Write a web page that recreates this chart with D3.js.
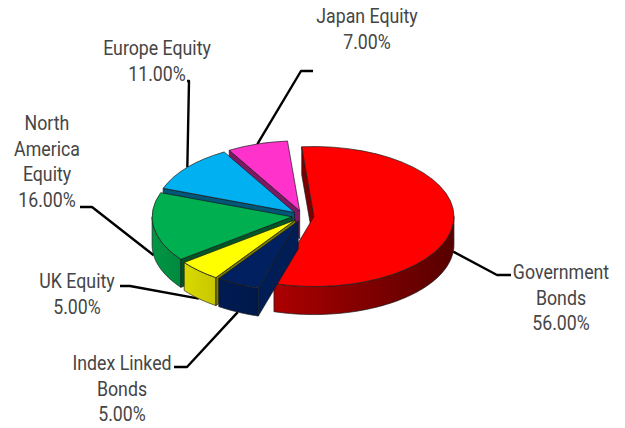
<!DOCTYPE html>
<html>
<head>
<meta charset="utf-8">
<script src="https://cdn.jsdelivr.net/npm/d3@7"></script>
<style>
  html, body { margin: 0; padding: 0; background: #fff; }
  svg { display: block; }
  .lbl { font-family: Roboto, sans-serif; font-size: 19.5px; fill: #454545; text-anchor: middle; }
</style>
</head>
<body>
<div id="chart"></div>
<script>
let categories = ["Government Bonds", "Index Linked Bonds", "UK Equity", "North America Equity", "Europe Equity", "Japan Equity"];
let values = [56, 5, 5, 16, 11, 7];
let topColors = ["#ff0000", "#002060", "#ffff00", "#00b050", "#00b0f0", "#ff33cc"];
let labelLines = [
  ["Government", "Bonds", "56.00%"],
  ["Index Linked", "Bonds", "5.00%"],
  ["UK Equity", "5.00%"],
  ["North", "America", "Equity", "16.00%"],
  ["Europe Equity", "11.00%"],
  ["Japan Equity", "7.00%"]
];

let width = 625;
let height = 428;
let cx = 303;
let cy = 216;
let rx = 140;
let ry = 70;
let depth = 28;
let explode = 11;
let startDeg = -5;

// label placement: centre x, first baseline, leader elbow, leader end
let labelPos = [
  { x: 561, y: 279, elbow: [497, 275], end: [511, 275] },
  { x: 122, y: 370, elbow: [187, 367], end: [174, 367] },
  { x: 77, y: 288, elbow: [130, 286], end: [120, 286] },
  { x: 47, y: 130, elbow: [92, 207], end: [80, 207] },
  { x: 157, y: 55, elbow: [189, 81], end: [187, 81] },
  { x: 367, y: 23, elbow: [301, 71], end: [313, 71] }
];
let lineStep = 25.7;
let textSqueeze = 0.91;

// painter order, back of the pie first
let drawOrder = [5, 4, 0, 3, 2, 1];

let svg = d3.select("#chart").append("svg").attr("width", width).attr("height", height);
let defs = svg.append("defs");

let pie = d3.pie().sort(null).value(d => d)
  .startAngle(startDeg * Math.PI / 180)
  .endAngle((startDeg + 360) * Math.PI / 180);
let slices = pie(values);

let arcTop = d3.arc().innerRadius(0).outerRadius(rx);
let line = d3.line();

function center(s) {
  let mid = (s.startAngle + s.endAngle) / 2;
  return [cx + Math.sin(mid) * explode, cy - Math.cos(mid) * explode * ry / rx];
}
function rim(s, a, z) {
  let c = center(s);
  return [c[0] + Math.sin(a) * rx, c[1] - Math.cos(a) * ry + z];
}

// leaders sit under the pie
let leaders = svg.append("g");
slices.forEach(function(s, i) {
  let mid = (s.startAngle + s.endAngle) / 2;
  let p = rim(s, mid, Math.cos(mid) < 0 ? depth : 0);
  leaders.append("path")
    .attr("d", line([labelPos[i].end, labelPos[i].elbow, p]))
    .attr("fill", "none")
    .attr("stroke", "#000")
    .attr("stroke-width", 2.4)
    .attr("stroke-linejoin", "round");
});

function wallGradient(i, x0, x1) {
  let base = d3.color(topColors[i]);
  let g = defs.append("linearGradient")
    .attr("id", "wall" + i)
    .attr("gradientUnits", "userSpaceOnUse")
    .attr("x1", x0).attr("x2", x1).attr("y1", 0).attr("y2", 0);
  g.append("stop").attr("offset", "0%").attr("stop-color", base.darker(i === 0 ? 1.1 : 0.45));
  g.append("stop").attr("offset", "100%").attr("stop-color", base.darker(i === 0 ? 3 : 0.7));
  return "url(#wall" + i + ")";
}

drawOrder.forEach(function(i) {
  let s = slices[i];
  let c = center(s);
  let g = svg.append("g");
  let edge = "#1a1a1a";

  // outer wall, only the part of the rim facing the viewer
  let a0 = Math.max(s.startAngle, Math.PI / 2);
  let a1 = Math.min(s.endAngle, Math.PI * 1.5);
  if (a1 > a0) {
    let angles = d3.range(0, 61).map(k => a0 + (a1 - a0) * k / 60);
    let upper = angles.map(a => rim(s, a, 0));
    let lower = angles.slice().reverse().map(a => rim(s, a, depth));
    let xs = upper.map(p => p[0]);
    g.append("path")
      .attr("d", line(upper.concat(lower)) + "Z")
      .attr("fill", wallGradient(i, d3.min(xs), d3.max(xs)))
      .attr("stroke", edge).attr("stroke-width", 0.7);
  }

  // cut face on the start side of the slice
  if (Math.cos(s.startAngle - Math.PI / 2) < 0) {
    let p = rim(s, s.startAngle, 0);
    let face = [c, p, [p[0], p[1] + depth], [c[0], c[1] + depth]];
    g.append("path")
      .attr("d", line(face) + "Z")
      .attr("fill", d3.color(topColors[i]).darker(i === 1 ? 0.3 : 2))
      .attr("stroke", edge).attr("stroke-width", 0.7);
  }

  // top surface
  g.append("path")
    .attr("d", arcTop(s))
    .attr("transform", "translate(" + c[0] + "," + c[1] + ") scale(1," + (ry / rx) + ")")
    .attr("fill", topColors[i])
    .attr("stroke", edge).attr("stroke-width", 0.7)
    .attr("vector-effect", "non-scaling-stroke");
});

labelLines.forEach(function(lines, i) {
  let t = svg.append("text").attr("class", "lbl")
    .attr("transform", "translate(" + labelPos[i].x + ",0) scale(" + textSqueeze + ",1)");
  lines.forEach(function(txt, k) {
    t.append("tspan")
      .attr("x", 0)
      .attr("y", labelPos[i].y + k * lineStep)
      .text(txt);
  });
});
</script>
</body>
</html>
